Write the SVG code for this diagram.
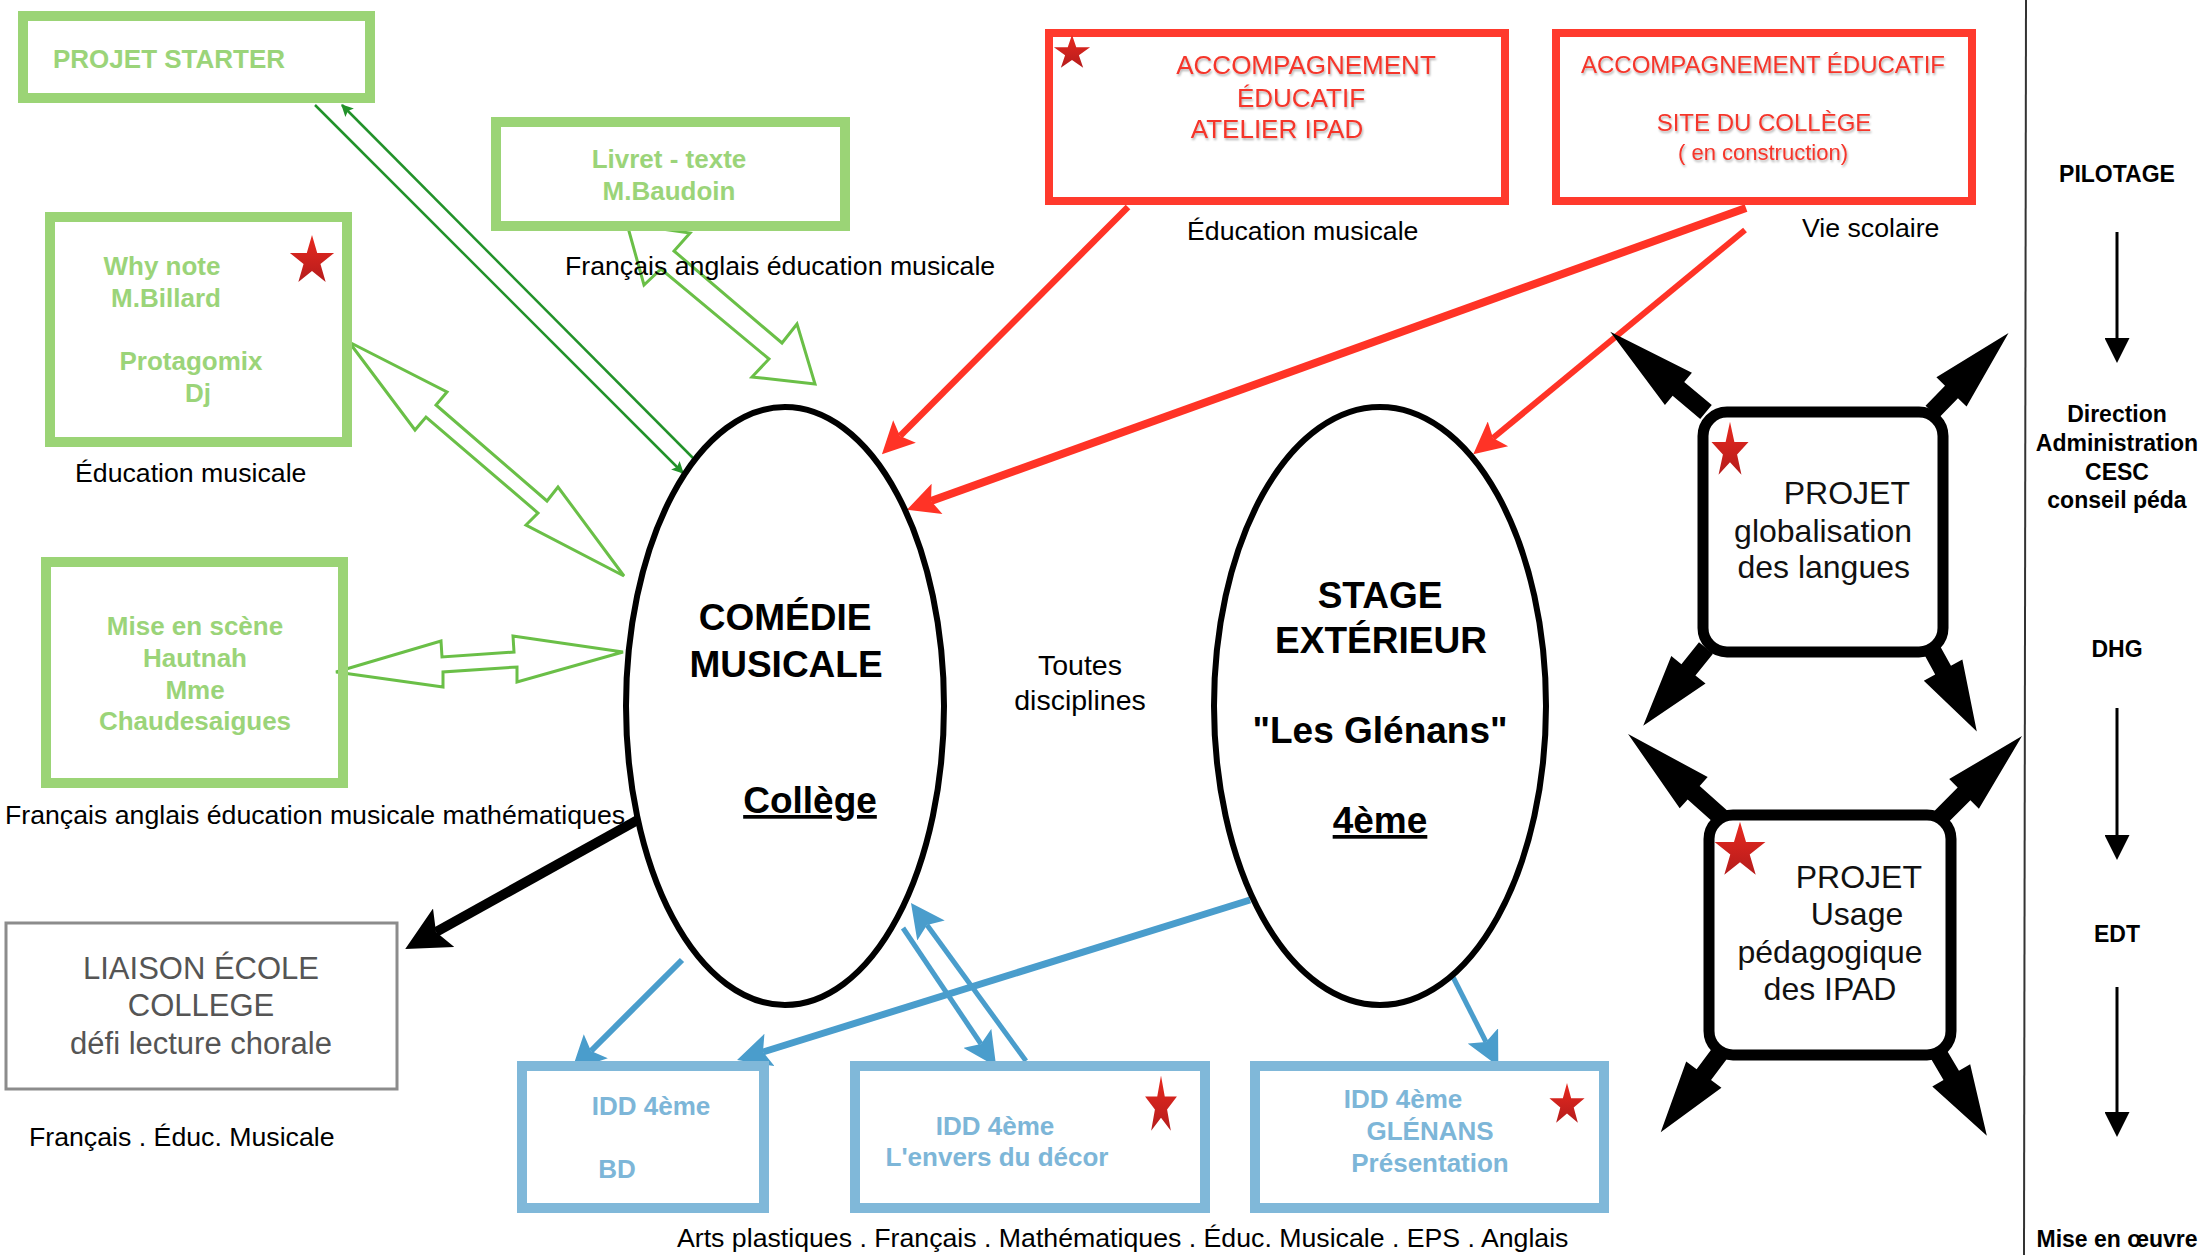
<svg xmlns="http://www.w3.org/2000/svg" xmlns:xlink="http://www.w3.org/1999/xlink" width="2201" height="1255" viewBox="0 0 2201 1255">
<style>
text{font-family:"Liberation Sans",Arial,sans-serif}
.gbox{fill:none;stroke:#9bd476;stroke-width:10}
.bbox{fill:#fff;stroke:#80b8d9;stroke-width:10}
.rbox{fill:#fff;stroke:#ff3a2d;stroke-width:8}
.pbox{fill:#fff;stroke:#000;stroke-width:11}
.gt{fill:#9bd479;font-size:26px;font-weight:bold;text-anchor:middle}
.bt{fill:#7db6d8;font-size:26px;font-weight:bold;text-anchor:middle}
.rt{fill:#f5352a;text-anchor:middle;filter:url(#sh)}
.lab{fill:#000;font-size:26.7px}
.big{fill:#000;font-size:37px;font-weight:bold;text-anchor:middle}
.pt{fill:#111;font-size:32px}
.side{fill:#000;font-size:23px;font-weight:bold;text-anchor:middle}
.li{fill:#555;font-size:31px;text-anchor:middle}
.hollow{fill:none;stroke:#6abf47;stroke-width:3;stroke-linejoin:miter}
.ca{fill:#000}
</style>
<defs>
<filter id="sh" x="-10%" y="-30%" width="120%" height="160%"><feDropShadow dx="1" dy="2" stdDeviation="1.2" flood-color="#000" flood-opacity="0.3"/></filter>
<linearGradient id="sg" x1="0" y1="0" x2="0" y2="1"><stop offset="0" stop-color="#e8291f"/><stop offset="1" stop-color="#b51c1c"/></linearGradient>
<path id="star" d="M0,-25 L5.61,-7.73 L23.78,-7.73 L9.08,2.95 L14.69,20.23 L0,9.55 L-14.69,20.23 L-9.08,2.95 L-23.78,-7.73 L-5.61,-7.73 Z" fill="url(#sg)"/>
<marker id="hr" viewBox="0 0 10 10" refX="2" refY="5" markerWidth="34" markerHeight="32" markerUnits="userSpaceOnUse" orient="auto"><path d="M0,0 L10,5 L0,10 L2,5 Z" fill="#ff3326"/></marker>
<marker id="hb" viewBox="0 0 10 10" refX="2" refY="5" markerWidth="34" markerHeight="34" markerUnits="userSpaceOnUse" orient="auto"><path d="M0,0 L10,5 L0,10 L2,5 Z" fill="#4a9dcc"/></marker>
<marker id="hk" viewBox="0 0 10 10" refX="2" refY="5" markerWidth="44" markerHeight="44" markerUnits="userSpaceOnUse" orient="auto"><path d="M0,0 L10,5 L0,10 L2,5 Z" fill="#000"/></marker>
<marker id="hs" viewBox="0 0 10 10" refX="2" refY="5" markerWidth="25" markerHeight="25" markerUnits="userSpaceOnUse" orient="auto"><path d="M0,0 L10,5 L0,10 Z" fill="#000"/></marker>
<marker id="hg" viewBox="0 0 10 10" refX="9" refY="5" markerWidth="18" markerHeight="12" markerUnits="userSpaceOnUse" orient="auto"><path d="M0,0 L10,5 L0,10 L2,5 Z" fill="#22922a"/></marker>
</defs>
<rect width="2201" height="1255" fill="#fff"/>

<g id="connectors">
  <line x1="315" y1="105" x2="683" y2="473" stroke="#22922a" stroke-width="2.5" marker-end="url(#hg)"/>
  <line x1="695" y1="460" x2="342" y2="105" stroke="#22922a" stroke-width="2.5" marker-end="url(#hg)"/>
  <polygon class="hollow" points="627,224 690,233 674,251 782,343 797,324 815,384 752,377 769,359 661,269 644,285"/>
  <polygon class="hollow" points="349,342 447,392 436,405 547,501 558,487 624,576 526,525 538,513 426,417 415,430"/>
  <polygon class="hollow" points="336,672 441,641 442,657 514,652 513,636 623,652 517,682 517,667 443,672 443,687"/>
  <line x1="1128" y1="207" x2="900" y2="436" stroke="#ff3326" stroke-width="6.5" marker-end="url(#hr)"/>
  <line x1="1746" y1="208" x2="931" y2="501" stroke="#ff3326" stroke-width="8" marker-end="url(#hr)"/>
  <line x1="1745" y1="230" x2="1493" y2="438" stroke="#ff3326" stroke-width="6" marker-end="url(#hr)"/>
  <line x1="643" y1="817" x2="436" y2="932" stroke="#000" stroke-width="10" marker-end="url(#hk)"/>
  <line x1="682" y1="960" x2="591" y2="1051" stroke="#4a9dcc" stroke-width="6" marker-end="url(#hb)"/>
  <line x1="1250" y1="900" x2="763" y2="1052" stroke="#4a9dcc" stroke-width="7" marker-end="url(#hb)"/>
  <line x1="903" y1="928" x2="981" y2="1044" stroke="#4a9dcc" stroke-width="5" marker-end="url(#hb)"/>
  <line x1="1026" y1="1061" x2="927" y2="925" stroke="#4a9dcc" stroke-width="5" marker-end="url(#hb)"/>
  <line x1="1453" y1="977" x2="1486" y2="1042" stroke="#4a9dcc" stroke-width="5" marker-end="url(#hb)"/>
  <polygon class="ca" points="0,-9 36,-9 36,-21 125,0 36,21 36,9 0,9" transform="translate(1706,412) rotate(220)"/>
  <polygon class="ca" points="0,-9 28,-9 28,-21 110,0 28,21 28,9 0,9" transform="translate(1932,412) rotate(-45.9)"/>
  <polygon class="ca" points="0,-9 28,-9 28,-22 100,0 28,22 28,9 0,9" transform="translate(1706,648) rotate(128.9)"/>
  <polygon class="ca" points="0,-9 23,-9 23,-22 93,0 23,22 23,9 0,9" transform="translate(1932,650) rotate(61.2)"/>
  <polygon class="ca" points="0,-9 38,-9 38,-21 126,0 38,21 38,9 0,9" transform="translate(1722,818) rotate(221.8)"/>
  <polygon class="ca" points="0,-9 34,-9 34,-21 116,0 34,21 34,9 0,9" transform="translate(1940,818) rotate(-45)"/>
  <polygon class="ca" points="0,-9 27,-9 27,-22 99,0 27,22 27,9 0,9" transform="translate(1720,1053) rotate(126.8)"/>
  <polygon class="ca" points="0,-9 26,-9 26,-22 96,0 26,22 26,9 0,9" transform="translate(1938,1053) rotate(59.4)"/>
  <line x1="2117" y1="232" x2="2117" y2="343" stroke="#000" stroke-width="3" marker-end="url(#hs)"/>
  <line x1="2117" y1="708" x2="2117" y2="840" stroke="#000" stroke-width="3" marker-end="url(#hs)"/>
  <line x1="2117" y1="987" x2="2117" y2="1117" stroke="#000" stroke-width="3" marker-end="url(#hs)"/>
</g>

<line x1="2026" y1="0" x2="2024" y2="1255" stroke="#333" stroke-width="2"/>

<g id="projet-starter">
  <rect class="gbox" x="23" y="16" width="347" height="82"/>
  <text class="gt" x="53" y="68" style="text-anchor:start">PROJET STARTER</text>
</g>
<g id="livret">
  <rect class="gbox" x="496" y="122" width="349" height="104"/>
  <text class="gt" x="669" y="168">Livret - texte</text>
  <text class="gt" x="669" y="200">M.Baudoin</text>
</g>
<text class="lab" x="565" y="275">Français anglais éducation musicale</text>
<g id="why-note">
  <rect class="gbox" x="50" y="217" width="297" height="225"/>
  <text class="gt" x="162" y="275">Why note</text>
  <text class="gt" x="166" y="307">M.Billard</text>
  <text class="gt" x="191" y="370">Protagomix</text>
  <text class="gt" x="198" y="402">Dj</text>
  <use xlink:href="#star" transform="translate(312,261) scale(0.93,1.04)"/>
</g>
<text class="lab" x="75" y="482">Éducation musicale</text>
<g id="mise-en-scene">
  <rect class="gbox" x="46" y="562" width="297" height="221"/>
  <text class="gt" x="195" y="635">Mise en scène</text>
  <text class="gt" x="195" y="667">Hautnah</text>
  <text class="gt" x="195" y="699">Mme</text>
  <text class="gt" x="195" y="730">Chaudesaigues</text>
</g>
<text class="lab" x="5" y="824">Français anglais éducation musicale mathématiques</text>
<g id="liaison">
  <rect x="6" y="923" width="391" height="166" fill="#fff" stroke="#8c8c8c" stroke-width="3"/>
  <text class="li" x="201" y="979">LIAISON ÉCOLE</text>
  <text class="li" x="201" y="1016">COLLEGE</text>
  <text class="li" x="201" y="1054">défi lecture chorale</text>
</g>
<text class="lab" x="29" y="1146">Français . Éduc. Musicale</text>

<g id="atelier-ipad">
  <rect class="rbox" x="1049" y="33" width="456" height="168"/>
  <use xlink:href="#star" transform="translate(1072,53) scale(0.76,0.73)"/>
  <text class="rt" x="1306" y="74" font-size="26">ACCOMPAGNEMENT</text>
  <text class="rt" x="1301" y="107" font-size="26">ÉDUCATIF</text>
  <text class="rt" x="1277" y="138" font-size="26">ATELIER IPAD</text>
</g>
<text class="lab" x="1187" y="240">Éducation musicale</text>
<g id="site-college">
  <rect class="rbox" x="1556" y="33" width="416" height="168"/>
  <text class="rt" x="1763" y="73" font-size="24">ACCOMPAGNEMENT ÉDUCATIF</text>
  <text class="rt" x="1764" y="131" font-size="24">SITE DU COLLÈGE</text>
  <text class="rt" x="1763" y="160" font-size="22">( en construction)</text>
</g>
<text class="lab" x="1802" y="237">Vie scolaire</text>

<g id="comedie">
  <ellipse cx="785" cy="706" rx="159" ry="299" fill="#fff" stroke="#000" stroke-width="6"/>
  <text class="big" x="785" y="630">COMÉDIE</text>
  <text class="big" x="786" y="677">MUSICALE</text>
  <text class="big" x="810" y="813" text-decoration="underline">Collège</text>
</g>
<g id="toutes">
  <text class="lab" x="1080" y="675" style="text-anchor:middle;font-size:28.5px">Toutes</text>
  <text class="lab" x="1080" y="710" style="text-anchor:middle;font-size:28.5px">disciplines</text>
</g>
<g id="stage">
  <ellipse cx="1380" cy="706" rx="166" ry="299" fill="#fff" stroke="#000" stroke-width="6"/>
  <text class="big" x="1380" y="608">STAGE</text>
  <text class="big" x="1381" y="653">EXTÉRIEUR</text>
  <text class="big" x="1380" y="743">"Les Glénans"</text>
  <text class="big" x="1380" y="833" text-decoration="underline">4ème</text>
</g>

<g id="idd-bd">
  <rect class="bbox" x="522" y="1066" width="242" height="142"/>
  <text class="bt" x="651" y="1115">IDD 4ème</text>
  <text class="bt" x="617" y="1178">BD</text>
</g>
<g id="idd-envers">
  <rect class="bbox" x="855" y="1066" width="350" height="142"/>
  <text class="bt" x="995" y="1135">IDD 4ème</text>
  <text class="bt" x="997" y="1166">L'envers du décor</text>
  <use xlink:href="#star" transform="translate(1161,1106) scale(0.67,1.22)"/>
</g>
<g id="idd-glenans">
  <rect class="bbox" x="1255" y="1066" width="349" height="142"/>
  <text class="bt" x="1403" y="1108">IDD 4ème</text>
  <text class="bt" x="1430" y="1140">GLÉNANS</text>
  <text class="bt" x="1430" y="1172">Présentation</text>
  <use xlink:href="#star" transform="translate(1567,1105) scale(0.74,0.88)"/>
</g>
<text class="lab" x="677" y="1247">Arts plastiques . Français . Mathématiques . Éduc. Musicale . EPS . Anglais</text>

<g id="projet-langues">
  <rect class="pbox" x="1703" y="412" width="240" height="240" rx="24"/>
  <use xlink:href="#star" transform="translate(1730,451) scale(0.78,1.17)"/>
  <text class="pt" x="1910" y="504" text-anchor="end">PROJET</text>
  <text class="pt" x="1912" y="542" text-anchor="end">globalisation</text>
  <text class="pt" x="1910" y="578" text-anchor="end">des langues</text>
</g>
<g id="projet-ipad">
  <rect class="pbox" x="1709" y="815" width="242" height="240" rx="24"/>
  <use xlink:href="#star" transform="translate(1740,851) scale(1.07,1.17)"/>
  <text class="pt" x="1922" y="888" text-anchor="end">PROJET</text>
  <text class="pt" x="1857" y="925" text-anchor="middle">Usage</text>
  <text class="pt" x="1830" y="963" text-anchor="middle">pédagogique</text>
  <text class="pt" x="1830" y="1000" text-anchor="middle">des IPAD</text>
</g>

<g id="pilotage">
  <text class="side" x="2117" y="182">PILOTAGE</text>
  <text class="side" x="2117" y="422">Direction</text>
  <text class="side" x="2117" y="451">Administration</text>
  <text class="side" x="2117" y="480">CESC</text>
  <text class="side" x="2117" y="508">conseil péda</text>
  <text class="side" x="2117" y="657">DHG</text>
  <text class="side" x="2117" y="942">EDT</text>
  <text class="side" x="2117" y="1247">Mise en œuvre</text>
</g>
</svg>
